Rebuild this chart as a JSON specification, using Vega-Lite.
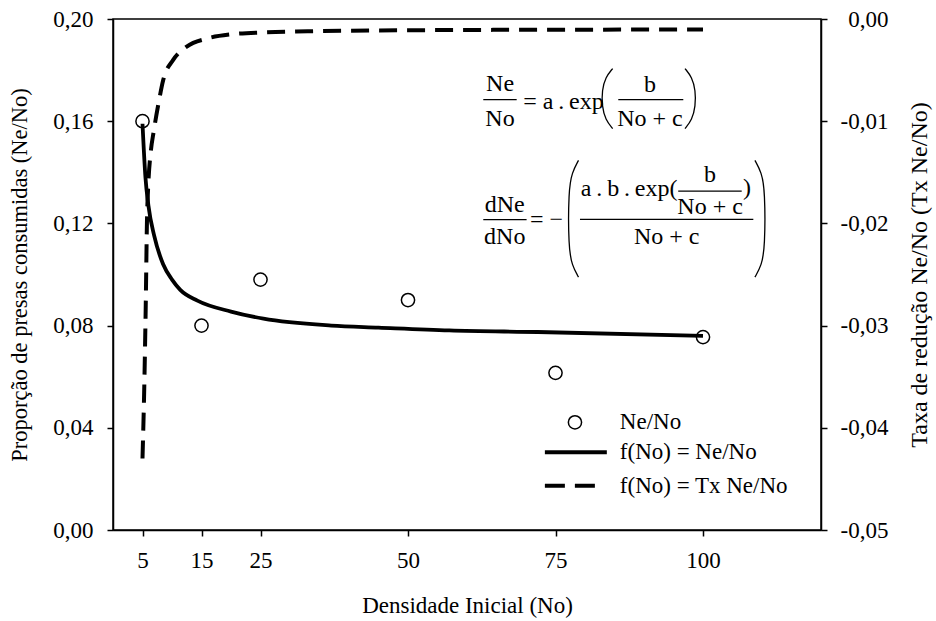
{
  "$schema": "https://vega.github.io/schema/vega-lite/v6.json",
  "width": 708,
  "height": 511,
  "autosize": {"type": "none"},
  "padding": {"left": 113, "top": 19, "right": 115, "bottom": 91},
  "background": "white",
  "config": {
    "font": "Liberation Serif",
    "view": {"stroke": "black", "strokeWidth": 1.5},
    "text": {"font": "Liberation Serif"},
    "axis": {
      "grid": false,
      "domainColor": "black",
      "domainWidth": 1.5,
      "tickColor": "black",
      "tickWidth": 1.5,
      "tickSize": 6,
      "labelFont": "Liberation Serif",
      "labelFontSize": 23,
      "labelColor": "black",
      "titleFont": "Liberation Serif",
      "titleFontSize": 23,
      "titleFontWeight": "normal",
      "titleColor": "black"
    }
  },
  "datasets": {
    "pts": [
      {"x": 5, "y": 0.160},
      {"x": 15, "y": 0.080},
      {"x": 25, "y": 0.098},
      {"x": 50, "y": 0.090},
      {"x": 75, "y": 0.0615},
      {"x": 100, "y": 0.0755}
    ],
    "fit": [
      {"x": 5.0, "y": 0.159},
      {"x": 5.5, "y": 0.138},
      {"x": 6.0, "y": 0.127},
      {"x": 7.0, "y": 0.115},
      {"x": 8.5, "y": 0.104},
      {"x": 10.0, "y": 0.098},
      {"x": 11.4, "y": 0.094},
      {"x": 14.3, "y": 0.0898},
      {"x": 20.0, "y": 0.0855},
      {"x": 25.5, "y": 0.0827},
      {"x": 37.0, "y": 0.0800},
      {"x": 45.0, "y": 0.0792},
      {"x": 57.0, "y": 0.0781},
      {"x": 72.0, "y": 0.0775},
      {"x": 100.0, "y": 0.0760}
    ],
    "tx": [
      {"x": 5.0, "y": -0.0430},
      {"x": 5.3, "y": -0.0360},
      {"x": 5.55, "y": -0.0280},
      {"x": 5.75, "y": -0.0200},
      {"x": 6.0, "y": -0.0160},
      {"x": 6.4, "y": -0.0130},
      {"x": 6.9, "y": -0.0110},
      {"x": 7.7, "y": -0.0083},
      {"x": 8.5, "y": -0.0060},
      {"x": 10.2, "y": -0.0040},
      {"x": 12.5, "y": -0.0027},
      {"x": 16.0, "y": -0.0019},
      {"x": 20.0, "y": -0.0015},
      {"x": 26.0, "y": -0.0013},
      {"x": 33.0, "y": -0.0012},
      {"x": 50.0, "y": -0.0011},
      {"x": 75.0, "y": -0.00105},
      {"x": 100.0, "y": -0.00103}
    ],
    "eqc": [
      {"x": 65.6, "y": 0.1747, "t": "Ne"},
      {"x": 65.6, "y": 0.1610, "t": "No"},
      {"x": 91.0, "y": 0.17406, "t": "b"},
      {"x": 91.0, "y": 0.1610, "t": "No + c"},
      {"x": 66.4, "y": 0.12705, "t": "dNe"},
      {"x": 66.4, "y": 0.11463, "t": "dNo"},
      {"x": 101.2, "y": 0.13881, "t": "b"},
      {"x": 101.2, "y": 0.12638, "t": "No + c"},
      {"x": 93.85, "y": 0.11463, "t": "No + c"}
    ],
    "eql": [
      {"x": 69.54, "y": 0.16752, "t": "= a\u2009.\u2009exp"},
      {"x": 70.68, "y": 0.12145, "t": "= −"},
      {"x": 79.3, "y": 0.1336, "t": "a\u2009.\u2009b\u2009.\u2009exp("},
      {"x": 106.8, "y": 0.1337, "t": ")"}
    ],
    "bars": [
      {"x": 62.76, "x2": 68.42, "y": 0.16846},
      {"x": 85.64, "x2": 96.66, "y": 0.16846},
      {"x": 62.76, "x2": 70.1, "y": 0.12145},
      {"x": 95.8, "x2": 106.56, "y": 0.13265},
      {"x": 79.15, "x2": 108.53, "y": 0.12157}
    ],
    "parens": [
      {"p": 1, "i": 1, "x": 84.69, "y": 0.18061},
      {"p": 1, "i": 2, "x": 83.47, "y": 0.17720},
      {"p": 1, "i": 3, "x": 82.88, "y": 0.17211},
      {"p": 1, "i": 4, "x": 82.88, "y": 0.16584},
      {"p": 1, "i": 5, "x": 83.47, "y": 0.16055},
      {"p": 1, "i": 6, "x": 84.69, "y": 0.15710},
      {"p": 2, "i": 1, "x": 96.95, "y": 0.18061},
      {"p": 2, "i": 2, "x": 98.14, "y": 0.17720},
      {"p": 2, "i": 3, "x": 98.73, "y": 0.17211},
      {"p": 2, "i": 4, "x": 98.73, "y": 0.16584},
      {"p": 2, "i": 5, "x": 98.14, "y": 0.16055},
      {"p": 2, "i": 6, "x": 96.95, "y": 0.15710},
      {"p": 3, "i": 1, "x": 78.9, "y": 0.14468},
      {"p": 3, "i": 2, "x": 77.80, "y": 0.13998},
      {"p": 3, "i": 3, "x": 77.20, "y": 0.13293},
      {"p": 3, "i": 4, "x": 77.20, "y": 0.11060},
      {"p": 3, "i": 5, "x": 77.80, "y": 0.10355},
      {"p": 3, "i": 6, "x": 78.9, "y": 0.09896},
      {"p": 4, "i": 1, "x": 108.8, "y": 0.14468},
      {"p": 4, "i": 2, "x": 109.92, "y": 0.13998},
      {"p": 4, "i": 3, "x": 110.51, "y": 0.13293},
      {"p": 4, "i": 4, "x": 110.51, "y": 0.11060},
      {"p": 4, "i": 5, "x": 109.92, "y": 0.10355},
      {"p": 4, "i": 6, "x": 108.8, "y": 0.09896}
    ],
    "legpt": [{"x": 78.3, "y": 0.04215}],
    "legsolid": [{"x": 73.2, "x2": 83.7, "y": 0.0304}],
    "legdash": [{"x": 73.2, "x2": 82.0, "y": 0.01736}],
    "legtxt": [
      {"x": 85.9, "y": 0.0422, "t": "Ne/No"},
      {"x": 85.9, "y": 0.0304, "t": "f(No) = Ne/No"},
      {"x": 85.9, "y": 0.0173, "t": "f(No) = Tx Ne/No"}
    ]
  },
  "resolve": {"scale": {"y": "independent"}, "axis": {"y": "independent"}},
  "layer": [
    {
      "encoding": {
        "x": {
          "field": "x", "type": "quantitative",
          "scale": {"domain": [0, 120], "nice": false, "zero": false},
          "axis": {"values": [5, 15, 25, 50, 75, 100], "title": "Densidade Inicial (No)", "labelPadding": 13, "titlePadding": 22}
        },
        "y": {
          "field": "y", "type": "quantitative",
          "scale": {"domain": [0, 0.2], "nice": false, "zero": false},
          "axis": {
            "orient": "left",
            "values": [0, 0.04, 0.08, 0.12, 0.16, 0.2],
            "labelExpr": "replace(format(datum.value, '.2f'), '.', ',')",
            "labelPadding": 14,
            "title": "Proporção de presas consumidas (Ne/No)",
            "titleFontSize": 22.5,
            "titlePadding": 21
          }
        }
      },
      "layer": [
        {"data": {"name": "fit"}, "mark": {"type": "line", "color": "black", "strokeWidth": 3.8, "interpolate": "monotone"}},
        {"data": {"name": "pts"}, "mark": {"type": "point", "shape": "circle", "size": 175, "filled": false, "color": "black", "strokeWidth": 1.5, "opacity": 1}},
        {"data": {"name": "eqc"}, "mark": {"type": "text", "align": "center", "baseline": "middle", "fontSize": 24, "color": "black"}, "encoding": {"text": {"field": "t"}}},
        {"data": {"name": "eql"}, "mark": {"type": "text", "align": "left", "baseline": "middle", "fontSize": 24, "color": "black"}, "encoding": {"text": {"field": "t"}}},
        {"data": {"name": "bars"}, "mark": {"type": "rule", "color": "black", "strokeWidth": 1.3}, "encoding": {"x2": {"field": "x2"}}},
        {"data": {"name": "parens"}, "mark": {"type": "line", "color": "black", "strokeWidth": 1.3, "interpolate": "basis"}, "encoding": {"detail": {"field": "p"}, "order": {"field": "i"}}},
        {"data": {"name": "legpt"}, "mark": {"type": "point", "shape": "circle", "size": 175, "filled": false, "color": "black", "strokeWidth": 1.5, "opacity": 1}},
        {"data": {"name": "legsolid"}, "mark": {"type": "rule", "color": "black", "strokeWidth": 4}, "encoding": {"x2": {"field": "x2"}}},
        {"data": {"name": "legdash"}, "mark": {"type": "rule", "color": "black", "strokeWidth": 4, "strokeDash": [20, 10]}, "encoding": {"x2": {"field": "x2"}}},
        {"data": {"name": "legtxt"}, "mark": {"type": "text", "align": "left", "baseline": "middle", "fontSize": 23, "color": "black"}, "encoding": {"text": {"field": "t"}}}
      ]
    },
    {
      "data": {"name": "tx"},
      "mark": {"type": "line", "color": "black", "strokeWidth": 4, "strokeDash": [18, 10], "interpolate": "monotone"},
      "encoding": {
        "x": {
          "field": "x", "type": "quantitative",
          "scale": {"domain": [0, 120], "nice": false, "zero": false},
          "axis": {"values": [5, 15, 25, 50, 75, 100], "title": "Densidade Inicial (No)", "labelPadding": 13, "titlePadding": 22}
        },
        "y": {
          "field": "y", "type": "quantitative",
          "scale": {"domain": [-0.05, 0], "nice": false, "zero": false},
          "axis": {
            "orient": "right",
            "values": [-0.05, -0.04, -0.03, -0.02, -0.01, 0],
            "labelExpr": "(datum.value < -0.0001 ? '-' : '') + replace(format(abs(datum.value), '.2f'), '.', ',')",
            "labelAlign": "right",
            "labelPadding": 61,
            "title": "Taxa de redução Ne/No (Tx Ne/No)",
            "titleFontSize": 24,
            "titleAngle": 270,
            "titleBaseline": "top",
            "titlePadding": 19
          }
        }
      }
    }
  ]
}
